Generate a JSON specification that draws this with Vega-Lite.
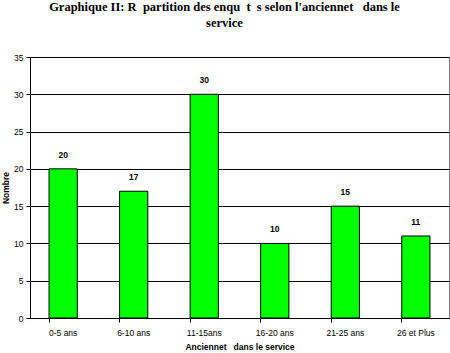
{
  "$schema": "https://vega.github.io/schema/vega-lite/v6.json",
  "autosize": "none",
  "width": 419,
  "height": 261,
  "padding": {"left": 30, "top": 57, "right": 1, "bottom": 35},
  "background": "white",
  "title": {
    "text": ["Graphique II: R\u00a0\u00a0partition des enqu\u00a0\u00a0t\u00a0\u00a0s selon l'anciennet\u00a0\u00a0\u00a0dans le", "service"],
    "font": "Liberation Serif",
    "fontSize": 12.5,
    "fontWeight": "bold",
    "color": "black",
    "anchor": "middle",
    "dx": -15,
    "offset": 24,
    "lineHeight": 16
  },
  "config": {
    "view": {"stroke": "#808080", "strokeWidth": 1},
    "axis": {"labelFont": "Liberation Sans", "titleFont": "Liberation Sans", "labelColor": "black", "titleColor": "black", "domainColor": "black", "tickColor": "black"}
  },
  "data": {
    "values": [
      {"cat": "0-5 ans", "n": 20},
      {"cat": "6-10 ans", "n": 17},
      {"cat": "11-15ans", "n": 30},
      {"cat": "16-20 ans", "n": 10},
      {"cat": "21-25 ans", "n": 15},
      {"cat": "26 et Plus", "n": 11}
    ]
  },
  "encoding": {
    "x": {
      "field": "cat", "type": "nominal", "sort": null,
      "scale": {"paddingInner": 0.6, "paddingOuter": 0.27},
      "axis": {"title": "Anciennet\u00a0\u00a0\u00a0dans le service", "labelAngle": 0, "labelFontSize": 8.5, "titleFontSize": 8.5, "titleFontWeight": "bold", "bandPosition": 0, "tickSize": 4, "labelPadding": 6, "titlePadding": 6, "grid": false}
    },
    "y": {
      "field": "n", "type": "quantitative",
      "scale": {"domain": [0, 35], "nice": false},
      "axis": {"title": "Nombre", "values": [0, 5, 10, 15, 20, 25, 30, 35], "labelFontSize": 8.5, "titleFontSize": 8.5, "titleFontWeight": "bold", "tickSize": 4, "labelPadding": 3, "titlePadding": 3, "gridColor": "black", "gridOpacity": 1, "grid": true}
    }
  },
  "layer": [
    {"mark": {"type": "bar", "color": "#00ff00", "stroke": "black", "strokeWidth": 1}},
    {"mark": {"type": "text", "dy": -9, "font": "Liberation Sans", "fontSize": 8.5, "fontWeight": "bold", "color": "black", "baseline": "bottom"}, "encoding": {"text": {"field": "n", "type": "quantitative"}}}
  ]
}
